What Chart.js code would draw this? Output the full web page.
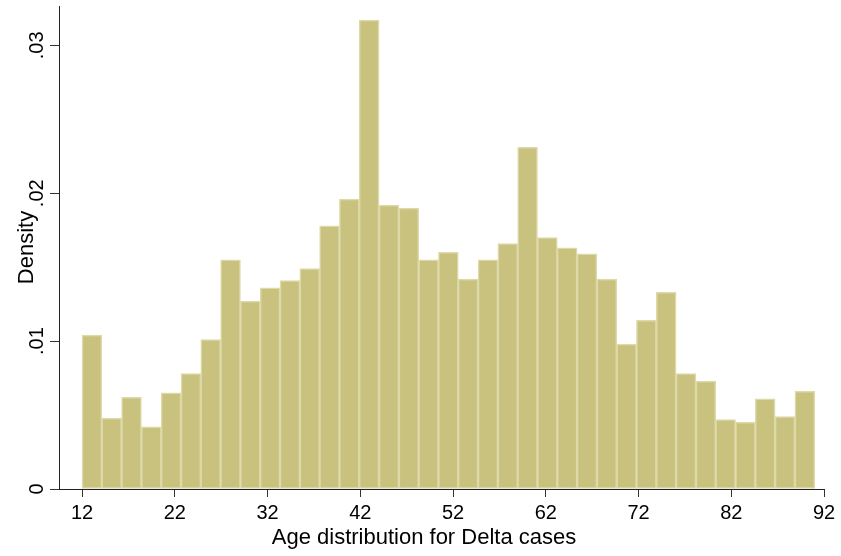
<!DOCTYPE html>
<html>
<head>
<meta charset="utf-8">
<script src="https://cdn.jsdelivr.net/npm/chart.js@4/dist/chart.umd.min.js"></script>
<style>
  html, body { margin: 0; padding: 0; background: #fff; }
  #wrap { width: 841px; height: 556px; }
</style>
</head>
<body>
<div id="wrap"><canvas id="chart" width="841" height="556"></canvas></div>
<script>
// Histogram: age of Delta cases, 37 bins from 12 to 91
const binStart = 12;
const binWidth = 79 / 37;
const densities = [
    0.0104, 0.0048, 0.0062, 0.0042, 0.0065, 0.0078, 0.0101, 0.0155, 0.0127, 0.0136,
    0.0141, 0.0149, 0.0178, 0.0196, 0.0317, 0.0192, 0.0190, 0.0155, 0.0160, 0.0142,
    0.0155, 0.0166, 0.0231, 0.0170, 0.0163, 0.0159, 0.0142, 0.0098, 0.0114, 0.0133,
    0.0078, 0.0073, 0.0047, 0.0045, 0.0061, 0.0049, 0.0066
];
const xTicks = [12, 22, 32, 42, 52, 62, 72, 82, 92];
const yTicks = [0, 0.01, 0.02, 0.03];
const yTickLabels = ['0', '.01', '.02', '.03'];
const xTitle = 'Age distribution for Delta cases';
const yTitle = 'Density';

const points = densities.map((d, i) => ({ x: binStart + binWidth * (i + 0.5), y: d }));

// rotated y labels + axis titles, drawn in Stata style
const stataText = {
    id: 'stataText',
    afterDraw(chart) {
        const ctx = chart.ctx;
        const ys = chart.scales.y;
        const area = chart.chartArea;
        ctx.save();
        ctx.fillStyle = '#000';
        ctx.font = '20px "Liberation Sans", Arial, sans-serif';
        ctx.textAlign = 'center';
        ctx.textBaseline = 'alphabetic';
        yTicks.forEach((v, i) => {
            const py = ys.getPixelForValue(v);
            ctx.save();
            ctx.translate(43, py);
            ctx.rotate(-Math.PI / 2);
            ctx.fillText(yTickLabels[i], 0, 0);
            ctx.restore();
        });
        ctx.font = '22px "Liberation Sans", Arial, sans-serif';
        ctx.save();
        ctx.translate(33, (area.top + area.bottom) / 2);
        ctx.rotate(-Math.PI / 2);
        ctx.fillText(yTitle, 0, 0);
        ctx.restore();
        ctx.fillText(xTitle, 424, 544);
        ctx.restore();
    }
};

new Chart(document.getElementById('chart'), {
    type: 'bar',
    data: {
        datasets: [{
            data: points,
            backgroundColor: '#C9C27F',
            borderColor: '#DDD9A8',
            borderWidth: 1.5,
            barPercentage: 1,
            categoryPercentage: 1,
            borderSkipped: false
        }]
    },
    options: {
        responsive: false,
        animation: false,
        layout: { padding: { top: 6, right: 17, left: 0, bottom: 0 } },
        plugins: { legend: { display: false }, tooltip: { enabled: false } },
        scales: {
            x: {
                type: 'linear',
                offset: false,
                min: 9.52,
                max: 92,
                afterBuildTicks: (s) => { s.ticks = xTicks.map(v => ({ value: v })); },
                afterFit: (s) => { s.height = 67; },
                grid: { offset: false, drawOnChartArea: false, drawTicks: true, tickLength: 8, color: '#333', lineWidth: 1 },
                border: { display: true, color: '#222', width: 1 },
                ticks: {
                    color: '#000',
                    padding: 4,
                    maxRotation: 0,
                    font: { family: '"Liberation Sans", Arial, sans-serif', size: 20 }
                }
            },
            y: {
                min: 0,
                max: 0.03266,
                afterBuildTicks: (s) => { s.ticks = yTicks.map(v => ({ value: v })); },
                afterFit: (s) => { s.width = 59; },
                grid: { drawOnChartArea: false, drawTicks: true, tickLength: 9, color: '#333', lineWidth: 1 },
                border: { display: true, color: '#222', width: 1 },
                ticks: { display: false }
            }
        }
    },
    plugins: [stataText]
});
</script>
</body>
</html>
